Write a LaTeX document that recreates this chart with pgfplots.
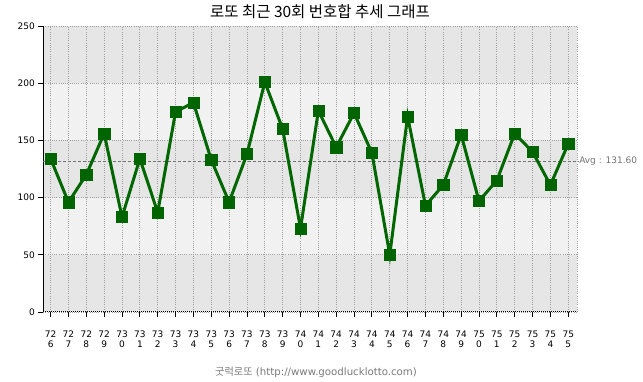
\documentclass[border=0pt]{standalone}
\usepackage{pgfplots}
\pgfplotsset{compat=1.18}
\usepackage{fontspec}
\setmainfont{DejaVu Sans}
\newfontfamily\kr{Noto Sans CJK KR}
\definecolor{bandA}{HTML}{E6E6E6}
\definecolor{bandB}{HTML}{F1F1F1}
\definecolor{gridc}{HTML}{A0A0A0}
\definecolor{lgreen}{HTML}{006600}
\definecolor{mgreen}{HTML}{006400}
\pgfplotsset{set layers}
\begin{document}
\begin{tikzpicture}
\begin{axis}[
  scale only axis, width=533.7pt, height=286pt,
  xmin=-0.41, xmax=29.49, ymin=0, ymax=250,
  ytick={0,50,100,150,200,250},
  xtick={0,...,29},
  xticklabels={{72\\6},{72\\7},{72\\8},{72\\9},{73\\0},{73\\1},{73\\2},{73\\3},{73\\4},{73\\5},{73\\6},{73\\7},{73\\8},{73\\9},{74\\0},{74\\1},{74\\2},{74\\3},{74\\4},{74\\5},{74\\6},{74\\7},{74\\8},{74\\9},{75\\0},{75\\1},{75\\2},{75\\3},{75\\4},{75\\5}},
  xticklabel style={align=center, font=\fontsize{9}{10}\selectfont, yshift=-10pt},
  yticklabel style={font=\fontsize{9}{10}\selectfont},
  /pgf/number format/assume math mode=true,
  axis x line*=bottom, axis y line*=left,
  separate axis lines,
  x axis line style={-, black, line width=1pt, dash pattern=on 1pt off 1pt},
  y axis line style={-, black, line width=1pt},
  tick align=outside,
  major tick length=5pt,
  tick style={black, line width=0.9pt},
  grid=major,
  major grid style={gridc, line width=0.9pt, dash pattern=on 1pt off 1.2pt},
  clip=false,
]
\begin{pgfonlayer}{axis background}
\fill[bandA] (axis cs:-0.41,0) rectangle (axis cs:29.49,50);
\fill[bandB] (axis cs:-0.41,50) rectangle (axis cs:29.49,100);
\fill[bandA] (axis cs:-0.41,100) rectangle (axis cs:29.49,150);
\fill[bandB] (axis cs:-0.41,150) rectangle (axis cs:29.49,200);
\fill[bandA] (axis cs:-0.41,200) rectangle (axis cs:29.49,250);
\end{pgfonlayer}
\path (rel axis cs:0,0) ++(-43.3pt,-70pt) rectangle ++(643pt,382pt);
\node[font=\kr\fontsize{15.5}{17}\selectfont, text=black] at ([shift={(276.7pt,300pt)}]rel axis cs:0,0) {로또 최근 30회 번호합 추세 그래프};
\node[text=gray!95!black, font=\fontsize{10.2}{11}\selectfont] at ([shift={(272.7pt,-60pt)}]rel axis cs:0,0) {{\kr 굿럭로또} (http://www.goodlucklotto.com)};
\draw[gridc, line width=0.9pt, dash pattern=on 1pt off 1.2pt] (axis cs:29.49,0) -- (axis cs:29.49,250);
\draw[gray!90!black, line width=0.9pt, dash pattern=on 3pt off 2pt] (axis cs:-0.41,131.6) -- (axis cs:29.6,131.6);
\node[anchor=west, text=gray!90!black, font=\fontsize{9}{10}\selectfont, inner sep=1pt] at (axis cs:29.55,131.6) {Avg : 131.60};
\addplot[color=lgreen, line width=3pt, mark=square*, mark size=5.6pt, mark options={solid, fill=mgreen, draw=mgreen, line width=0.5pt}] coordinates {
(0,134) (1,96) (2,120) (3,156) (4,83) (5,134) (6,87) (7,175) (8,183) (9,133)
(10,96) (11,138) (12,201) (13,160) (14,73) (15,176) (16,144) (17,174) (18,139) (19,50)
(20,171) (21,93) (22,111) (23,155) (24,97) (25,115) (26,156) (27,140) (28,111) (29,147)
};
\end{axis}
\end{tikzpicture}
\end{document}
